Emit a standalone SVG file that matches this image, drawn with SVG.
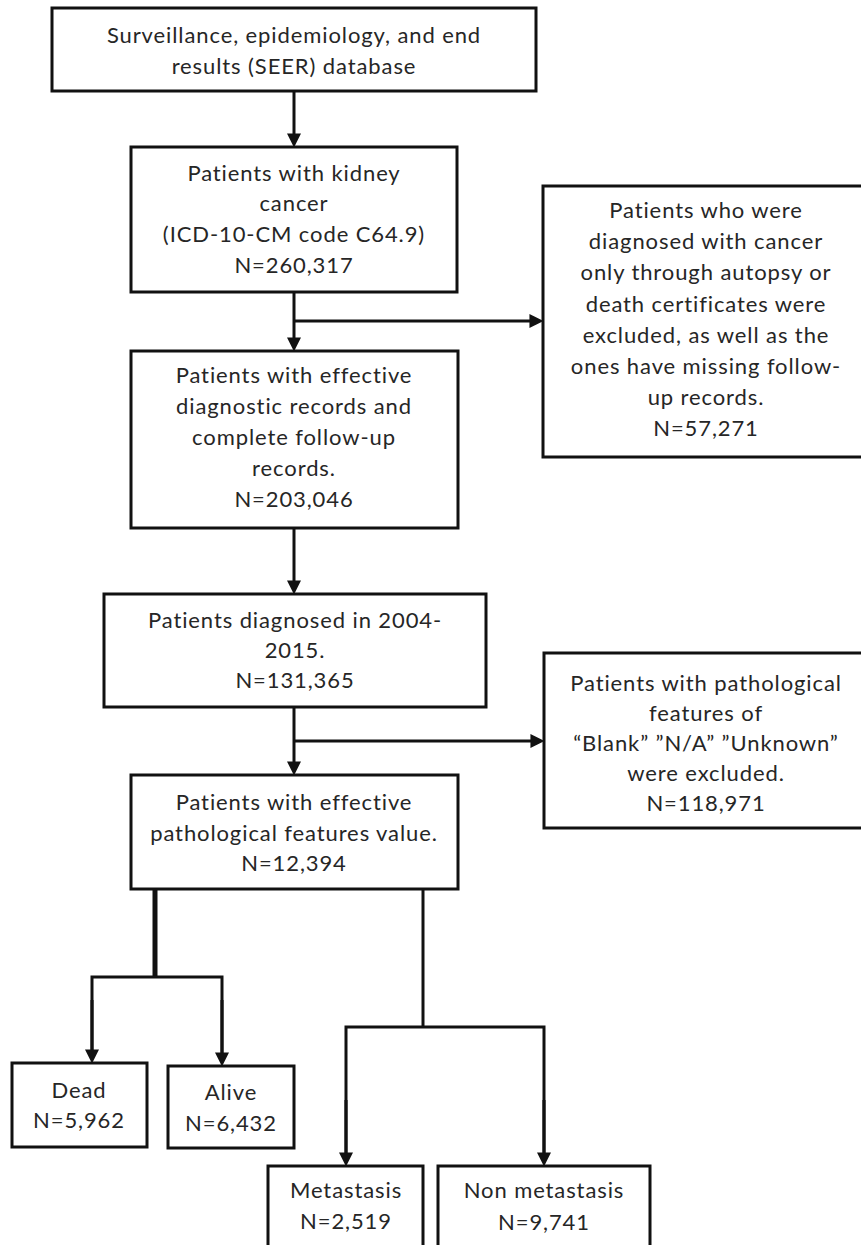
<svg xmlns="http://www.w3.org/2000/svg" width="861" height="1245" viewBox="0 0 861 1245">
<style>
.box{fill:#fff;stroke:#111;stroke-width:3}
.t{font-family:Lato,"Liberation Sans",sans-serif;font-size:22px;letter-spacing:0.9px;fill:#262626;text-anchor:middle}
.c{fill:none;stroke:#111;stroke-width:3}
.a{marker-end:url(#ah)}
</style>
<defs>
<marker id="ah" markerUnits="userSpaceOnUse" viewBox="0 0 13 13" markerWidth="14" markerHeight="14" refX="7" refY="6.5" orient="auto">
<path d="M0,0 L13,6.5 L0,13 z" fill="#111"/>
</marker>
</defs>
<rect width="861" height="1245" fill="#fff"/>
<g id="connectors">
<line class="c a" x1="294" y1="91" x2="294" y2="141"/>
<line class="c a" x1="294" y1="292" x2="294" y2="345"/>
<line class="c a" x1="294" y1="321" x2="537" y2="321"/>
<line class="c a" x1="294" y1="528" x2="294" y2="588"/>
<line class="c a" x1="294" y1="707" x2="294" y2="769"/>
<line class="c a" x1="294" y1="741" x2="538" y2="741"/>
<line class="c" x1="155" y1="889" x2="155" y2="977" style="stroke-width:5"/>
<polyline class="c" points="92,1057 92,977 222,977 222,1060"/>
<line class="c a" x1="92" y1="1000" x2="92" y2="1057"/>
<line class="c a" x1="222" y1="1000" x2="222" y2="1060"/>
<line class="c" x1="423" y1="889" x2="423" y2="1027"/>
<polyline class="c" points="346,1160 346,1027 544,1027 544,1160"/>
<line class="c a" x1="346" y1="1100" x2="346" y2="1160"/>
<line class="c a" x1="544" y1="1100" x2="544" y2="1160"/>
</g>
<g id="n1">
<rect class="box" x="52" y="8" width="484" height="83"/>
<text class="t" x="294" y="43">Surveillance, epidemiology, and end</text>
<text class="t" x="294" y="74">results (SEER) database</text>
</g>
<g id="n2">
<rect class="box" x="131" y="147" width="326" height="145"/>
<text class="t" x="294" y="181">Patients with kidney</text>
<text class="t" x="294" y="211">cancer</text>
<text class="t" x="294" y="242">(ICD-10-CM code C64.9)</text>
<text class="t" x="294" y="273">N=260,317</text>
</g>
<g id="n3">
<rect class="box" x="543" y="186" width="326" height="271"/>
<text class="t" x="706" y="218">Patients who were</text>
<text class="t" x="706" y="249">diagnosed with cancer</text>
<text class="t" x="706" y="280">only through autopsy or</text>
<text class="t" x="706" y="312">death certificates were</text>
<text class="t" x="706" y="343">excluded, as well as the</text>
<text class="t" x="706" y="374">ones have missing follow-</text>
<text class="t" x="706" y="405">up records.</text>
<text class="t" x="706" y="436">N=57,271</text>
</g>
<g id="n4">
<rect class="box" x="131" y="351" width="327" height="177"/>
<text class="t" x="294" y="383">Patients with effective</text>
<text class="t" x="294" y="414">diagnostic records and</text>
<text class="t" x="294" y="445">complete follow-up</text>
<text class="t" x="294" y="476">records.</text>
<text class="t" x="294" y="507">N=203,046</text>
</g>
<g id="n5">
<rect class="box" x="104" y="594" width="382" height="113"/>
<text class="t" x="295" y="628">Patients diagnosed in 2004-</text>
<text class="t" x="295" y="658">2015.</text>
<text class="t" x="295" y="688">N=131,365</text>
</g>
<g id="n6">
<rect class="box" x="544" y="653" width="324" height="175"/>
<text class="t" x="706" y="691">Patients with pathological</text>
<text class="t" x="706" y="721">features of</text>
<text class="t" x="706" y="751">“Blank” ”N/A” ”Unknown”</text>
<text class="t" x="706" y="781">were excluded.</text>
<text class="t" x="706" y="811">N=118,971</text>
</g>
<g id="n7">
<rect class="box" x="131" y="775" width="327" height="114"/>
<text class="t" x="294" y="810">Patients with effective</text>
<text class="t" x="294" y="841">pathological features value.</text>
<text class="t" x="294" y="871">N=12,394</text>
</g>
<g id="n8">
<rect class="box" x="12" y="1063" width="135" height="84"/>
<text class="t" x="79" y="1098">Dead</text>
<text class="t" x="79" y="1128">N=5,962</text>
</g>
<g id="n9">
<rect class="box" x="168" y="1066" width="126" height="82"/>
<text class="t" x="231" y="1100">Alive</text>
<text class="t" x="231" y="1131">N=6,432</text>
</g>
<g id="n10">
<rect class="box" x="268" y="1166" width="155" height="94"/>
<text class="t" x="346" y="1198">Metastasis</text>
<text class="t" x="346" y="1229">N=2,519</text>
</g>
<g id="n11">
<rect class="box" x="438" y="1166" width="212" height="94"/>
<text class="t" x="544" y="1198">Non metastasis</text>
<text class="t" x="544" y="1230">N=9,741</text>
</g>
</svg>
